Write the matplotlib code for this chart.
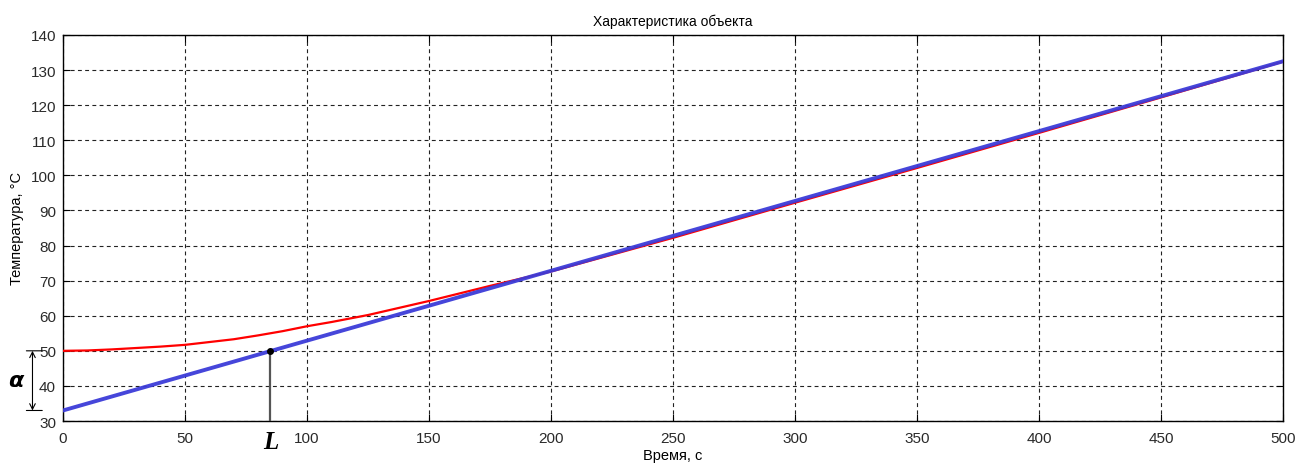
import matplotlib.pyplot as plt

plt.rcParams['font.family'] = ['Liberation Sans', 'DejaVu Sans']

# ===============================
# DATA
# ===============================
t_obj = [0, 10, 20, 30, 40, 50, 60, 70, 80, 90, 100, 110, 125, 150, 175, 200,
         250, 300, 350, 400, 450, 500]
temp_obj = [50.0, 50.1, 50.4, 50.8, 51.2, 51.7, 52.5, 53.3, 54.4, 55.6, 57.0,
            58.2, 60.2, 64.2, 68.5, 72.6, 82.2, 92.2, 102.1, 112.1, 122.2, 132.4]

t_tan = [0, 500]
temp_tan = [33.0, 132.5]

L = 85
y0 = 50
alpha_low = 33

xticks = [0, 50, 100, 150, 200, 250, 300, 350, 400, 450, 500]
yticks = [30, 40, 50, 60, 70, 80, 90, 100, 110, 120, 130, 140]

# ===============================
# PLOT
# ===============================
fig = plt.figure(figsize=(12.96, 4.64), dpi=100)
ax = fig.add_axes([0.0486, 0.0905, 0.9414, 0.832])

ax.plot(t_obj, temp_obj, color='#ff0000', lw=1.6, zorder=3)
ax.plot(t_tan, temp_tan, color='#3c3cd8', lw=2.8, alpha=0.95, zorder=4)

# точка L и вертикаль к оси
ax.plot([L, L], [30, y0], color='#555555', lw=1.6, zorder=5)
ax.plot([L], [y0], 'o', color='black', ms=4, zorder=6)

ax.set_xlim(0, 500)
ax.set_ylim(30, 140)
ax.set_xticks(xticks)
ax.set_yticks(yticks)
ax.grid(True, color='#222222', linestyle=(0, (3.5, 3)), lw=0.8)
ax.tick_params(direction='in', top=True, right=True, length=5,
               labelsize=11, labelcolor='#2a2a2a')
ax.tick_params(axis='x', pad=7)
ax.tick_params(axis='y', pad=5)
for s in ax.spines.values():
    s.set_linewidth(1.0)

ax.set_title('Характеристика объекта', fontsize=10, pad=7)
ax.set_xlabel('Время, с', fontsize=10.5, labelpad=2)
ax.set_ylabel('Температура, °C', fontsize=10.5, labelpad=5)

# обозначение alpha слева от оси
for yy in (y0, alpha_low):
    ax.annotate('', xy=(-8.5, yy), xytext=(-15, yy),
                arrowprops=dict(arrowstyle='-', color='black', lw=0.8,
                                shrinkA=0, shrinkB=0),
                annotation_clip=False)
ax.annotate('', xy=(-12.5, alpha_low), xytext=(-12.5, y0),
            arrowprops=dict(arrowstyle='<->', color='black', lw=0.8,
                            shrinkA=0, shrinkB=0),
            annotation_clip=False)
ax.text(-19, 41.5, r'$\boldsymbol{\alpha}$', fontsize=16, ha='center', va='center')

ax.text(L, 24.3, 'L', fontsize=18, ha='center', va='center',
        family='Liberation Serif', fontweight='bold', fontstyle='italic')

fig.savefig('out.png', dpi=100)
